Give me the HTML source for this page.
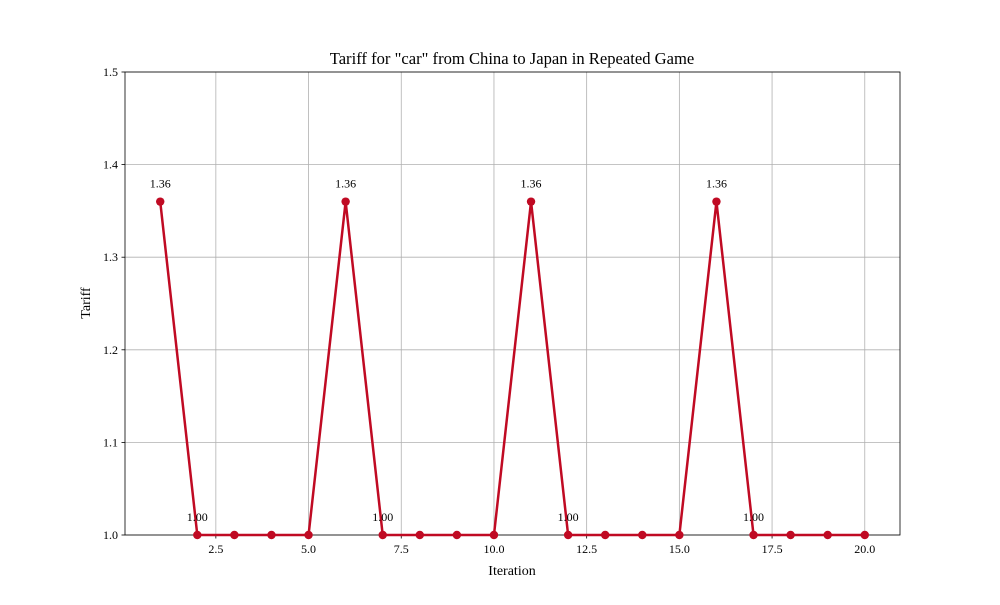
<!DOCTYPE html>
<html><head><meta charset="utf-8"><style>
body{margin:0;background:#fff;}
svg text{font-family:"Liberation Serif",serif;fill:#000;}
</style></head><body>
<svg id="chart" width="1000" height="600" xmlns="http://www.w3.org/2000/svg">
<rect width="1000" height="600" fill="#fff"/>
<g id="grid"></g>
<g id="axes"></g>
<g id="series"></g>
<text x="512" y="64" font-size="16.6" text-anchor="middle">Tariff for "car" from China to Japan in Repeated Game</text>
<text x="512" y="575" font-size="14" text-anchor="middle">Iteration</text>
<text x="90" y="303" font-size="14" text-anchor="middle" transform="rotate(-90 90 303)">Tariff</text>
</svg>
<script>
const iterations = [1,2,3,4,5,6,7,8,9,10,11,12,13,14,15,16,17,18,19,20];
const tariffs = [1.36,1.00,1.00,1.00,1.00,1.36,1.00,1.00,1.00,1.00,1.36,1.00,1.00,1.00,1.00,1.36,1.00,1.00,1.00,1.00];
const annotatedIdx = [0,1,5,6,10,11,15,16];
const xTicks = [2.5,5.0,7.5,10.0,12.5,15.0,17.5,20.0];
const yTicks = [1.0,1.1,1.2,1.3,1.4,1.5];
const L=125,R=900,T=72,B=535;
const xMin=0.05,xMax=20.95,yMin=1.0,yMax=1.5;
const xs=v=>L+(v-xMin)/(xMax-xMin)*(R-L);
const ys=v=>B-(v-yMin)/(yMax-yMin)*(B-T);
const NS="http://www.w3.org/2000/svg";
function mk(tag,attrs,parent){const e=document.createElementNS(NS,tag);for(const k in attrs)e.setAttribute(k,attrs[k]);parent.appendChild(e);return e;}
const grid=document.getElementById('grid'),axes=document.getElementById('axes'),series=document.getElementById('series');
xTicks.forEach(t=>{const x=xs(t);
 const g=mk('line',{x1:x,x2:x,y1:T,y2:B,stroke:'#b0b0b0','stroke-width':0.8},grid);
 
 
 mk('line',{x1:x,x2:x,y1:B,y2:B+3.5,stroke:'#000','stroke-width':0.8},axes);
 const tx=mk('text',{x:x,y:B+18,'font-size':12,'text-anchor':'middle'},axes);tx.textContent=t.toFixed(1);
 
 
});
yTicks.forEach(t=>{const y=ys(t);
 const g=mk('line',{x1:L,x2:R,y1:y,y2:y,stroke:'#b0b0b0','stroke-width':0.8},grid);
 
 
 mk('line',{x1:L-3.5,x2:L,y1:y,y2:y,stroke:'#000','stroke-width':0.8},axes);
 const tx=mk('text',{x:L-7,y:y+4,'font-size':12,'text-anchor':'end'},axes);tx.textContent=t.toFixed(1);
 
 
});
const fr=mk('rect',{x:L,y:T,width:R-L,height:B-T,fill:'none',stroke:'#000','stroke-width':0.8},axes);


const pts=iterations.map((v,i)=>xs(v)+','+ys(tariffs[i])).join(' ');
const pl=mk('polyline',{points:pts,fill:'none',stroke:'#c00a23','stroke-width':2.5,'stroke-linejoin':'round'},series);


iterations.forEach((v,i)=>{
 const c=mk('circle',{cx:xs(v),cy:ys(tariffs[i]),r:4.2,fill:'#c00a23'},series);
 
 
});
annotatedIdx.forEach(i=>{
 const t=mk('text',{x:xs(iterations[i]),y:ys(tariffs[i])-14,'font-size':12,'text-anchor':'middle'},series);
 t.textContent=tariffs[i].toFixed(2);
 
 
});
</script>
</body></html>
